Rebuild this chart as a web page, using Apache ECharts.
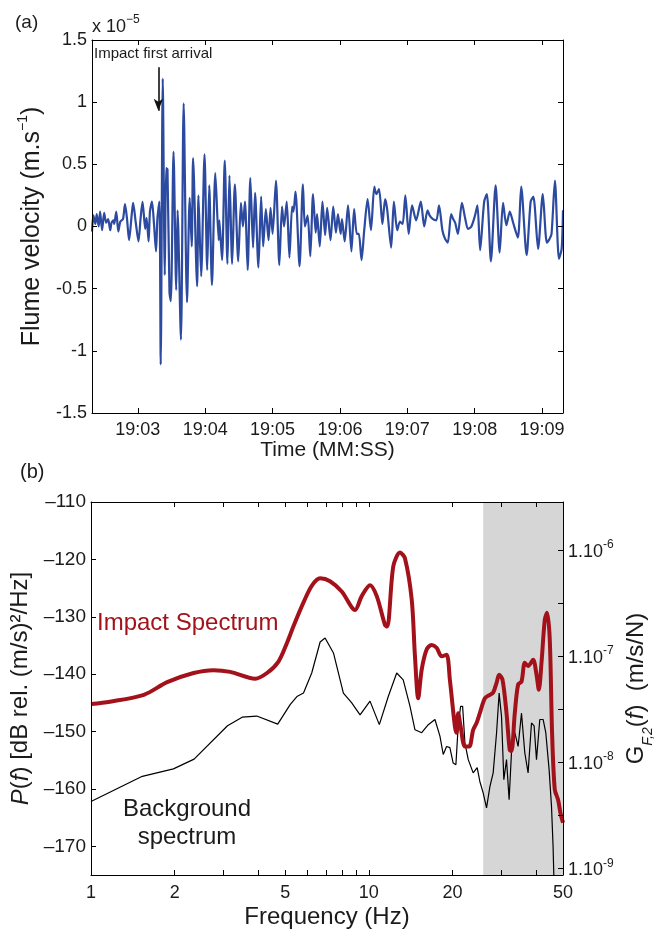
<!DOCTYPE html>
<html>
<head>
<meta charset="utf-8">
<title>Flume velocity and impact spectrum</title>
<script src="https://cdn.jsdelivr.net/npm/echarts@6.0.0/dist/echarts.min.js"></script>
<style>
  html, body { margin: 0; padding: 0; background: #fff; }
  #chart { width: 654px; height: 933px; }
</style>
</head>
<body>
<div id="chart"></div>
<script>
// (a) flume velocity: [seconds after 19:00, velocity in 1e-5 m/s]
const velocityTrace = [
  [2.32, -0.04], [2.34, 0.09], [2.37, 0.02], [2.39, 0.10], [2.42, 0.00], [2.44, 0.12], [2.47, -0.03],
  [2.50, 0.11], [2.53, 0.03], [2.56, 0.06], [2.59, -0.03], [2.61, 0.03], [2.64, 0.05], [2.65, 0.02],
  [2.68, 0.12], [2.71, -0.04], [2.74, 0.04], [2.78, 0.06], [2.81, 0.18], [2.84, 0.06], [2.87, -0.11],
  [2.91, 0.10], [2.93, 0.19], [2.97, 0.03], [3.01, -0.12], [3.04, 0.06], [3.07, 0.20], [3.11, -0.02],
  [3.13, 0.07], [3.16, -0.12], [3.18, 0.12], [3.21, 0.20], [3.24, 0.02], [3.27, -0.20], [3.29, 0.06],
  [3.32, 0.20], [3.34, -1.11], [3.37, 1.19], [3.40, -0.39], [3.42, 0.47], [3.44, 0.46], [3.47, -0.53],
  [3.49, -0.60], [3.53, 0.60], [3.57, -0.51], [3.59, 0.13], [3.64, -0.91], [3.68, 0.99], [3.73, -0.61],
  [3.77, 0.23], [3.80, -0.16], [3.82, 0.55], [3.88, -0.48], [3.90, 0.25], [3.94, -0.40], [3.99, 0.58],
  [4.03, -0.35], [4.06, 0.33], [4.10, -0.47], [4.15, 0.43], [4.20, -0.11], [4.21, 0.05], [4.25, -0.27],
  [4.29, 0.53], [4.33, -0.30], [4.36, 0.41], [4.40, -0.30], [4.44, 0.34], [4.49, -0.28], [4.53, 0.19],
  [4.56, 0.00], [4.59, 0.20], [4.63, -0.35], [4.67, 0.39], [4.71, -0.17], [4.74, 0.27], [4.79, -0.33],
  [4.83, 0.24], [4.86, -0.16], [4.90, 0.14], [4.94, -0.11], [4.97, 0.15], [5.00, -0.06], [5.05, 0.37],
  [5.10, -0.31], [5.14, 0.16], [5.17, 0.00], [5.21, 0.20], [5.25, -0.25], [5.29, 0.16], [5.31, 0.12],
  [5.34, 0.28], [5.40, -0.32], [5.45, 0.34], [5.48, 0.00], [5.52, 0.09], [5.56, -0.24], [5.60, 0.26],
  [5.64, -0.05], [5.66, 0.10], [5.70, -0.16], [5.74, 0.20], [5.78, -0.07], [5.81, 0.15], [5.86, -0.11],
  [5.90, 0.16], [5.94, -0.05], [5.97, 0.10], [6.01, -0.06], [6.03, 0.06], [6.07, -0.12], [6.12, 0.17],
  [6.17, -0.20], [6.21, 0.14], [6.25, -0.06], [6.28, -0.06], [6.32, -0.27], [6.36, -0.03], [6.41, 0.22],
  [6.46, -0.03], [6.51, 0.32], [6.54, 0.26], [6.58, 0.30], [6.63, 0.02], [6.67, 0.22], [6.70, 0.14],
  [6.76, -0.17], [6.80, 0.20], [6.85, -0.03], [6.89, 0.04], [6.93, 0.02], [6.97, 0.25], [7.02, -0.06],
  [7.07, 0.17], [7.13, 0.05], [7.20, 0.20], [7.25, 0.00], [7.30, 0.13], [7.33, 0.09], [7.38, 0.06],
  [7.43, 0.05], [7.47, 0.17], [7.52, -0.03], [7.56, -0.10], [7.60, -0.13], [7.65, 0.10], [7.68, 0.06],
  [7.71, 0.03], [7.75, -0.06], [7.81, 0.19], [7.86, 0.06], [7.90, -0.02], [7.95, 0.00], [8.00, 0.08],
  [8.04, 0.17], [8.08, -0.19], [8.14, 0.20], [8.18, 0.26], [8.24, -0.28], [8.31, 0.33], [8.37, -0.21],
  [8.42, 0.19], [8.47, 0.01], [8.52, 0.12], [8.57, 0.03], [8.64, -0.09], [8.69, 0.32], [8.77, -0.23],
  [8.83, 0.20], [8.87, 0.24], [8.94, -0.18], [9.01, 0.26], [9.07, -0.13], [9.11, -0.10], [9.14, -0.06],
  [9.19, 0.37], [9.25, -0.26], [9.29, -0.18], [9.31, 0.13]
];
const timeTicks = [3, 4, 5, 6, 7, 8, 9];
const timeRange = [2.32, 9.31];
// arrow "Impact first arrival"
const arrivalTime = 3.305;
const arrowFrom = 1.28;
const arrowTo = 0.93;

// (b) spectra: [frequency Hz, dB rel. (m/s)^2/Hz]
const impactSpectrum = [
  [1.00, -145.2], [1.17, -144.8], [1.55, -143.6], [1.88, -141.4], [2.34, -139.8], [2.76, -139.3],
  [3.17, -139.6], [3.90, -140.8], [4.30, -139.8], [4.73, -137.8], [5.07, -134.6], [5.35, -131.7],
  [5.82, -127.5], [6.23, -124.6], [6.68, -123.3], [7.25, -123.8], [7.99, -125.6], [8.92, -128.8],
  [9.43, -126.4], [10.10, -124.5], [10.68, -126.4], [11.43, -131.4], [11.65, -131.7], [12.25, -121.2],
  [12.95, -118.8], [13.49, -119.8], [14.27, -127.0], [14.66, -136.9], [15.06, -144.2], [15.50, -139.2],
  [16.15, -135.7], [16.83, -134.9], [17.54, -135.4], [18.29, -136.9], [19.05, -136.6], [19.58, -141.0],
  [20.41, -149.1], [20.70, -150.2], [20.97, -146.8], [21.40, -149.1], [22.18, -152.6], [22.98, -152.6],
  [23.75, -149.7], [24.43, -148.5], [25.10, -146.8], [26.17, -144.2], [27.28, -143.6], [28.03, -143.2],
  [28.83, -141.5], [29.45, -140.1], [30.29, -141.0], [31.31, -146.8], [32.15, -153.2], [32.62, -153.4],
  [33.53, -146.8], [34.47, -141.8], [35.45, -141.3], [36.43, -138.0], [37.44, -138.6], [39.03, -137.5],
  [40.14, -140.1], [40.92, -142.7], [41.84, -138.0], [43.00, -130.5], [43.82, -129.3], [44.81, -134.0],
  [45.67, -150.2], [46.70, -160.1], [48.00, -161.9], [48.96, -164.2], [50.00, -165.9]
];
const backgroundSpectrum = [
  [1.00, -162.2], [1.53, -157.8], [1.98, -156.5], [2.35, -154.8], [3.10, -149.0], [3.50, -147.5],
  [3.95, -147.3], [4.70, -148.7], [5.21, -145.3], [5.51, -143.9], [5.82, -143.3], [6.23, -139.8],
  [6.68, -134.4], [6.96, -133.7], [7.46, -136.3], [8.10, -143.3], [8.68, -145.0], [9.30, -147.1],
  [10.10, -144.7], [10.91, -148.8], [11.75, -143.9], [12.60, -139.8], [13.30, -141.0], [14.07, -145.6],
  [14.66, -149.7], [15.50, -150.2], [16.37, -148.8], [17.30, -147.9], [18.03, -150.8], [18.53, -154.0],
  [19.05, -152.6], [19.58, -152.8], [20.12, -155.5], [20.58, -155.8], [20.97, -149.1], [21.40, -145.6],
  [21.76, -145.6], [22.18, -152.0], [22.80, -154.9], [23.75, -157.2], [24.55, -156.3], [25.10, -158.7],
  [25.80, -160.7], [26.53, -163.3], [27.28, -159.6], [28.03, -157.2], [28.83, -150.2], [29.45, -143.3],
  [30.04, -147.4], [30.62, -158.4], [31.31, -154.9], [31.99, -161.9], [32.62, -153.7], [33.53, -150.2],
  [34.47, -152.6], [35.45, -146.8], [36.43, -153.7], [37.44, -157.2], [38.51, -148.5], [39.35, -149.0],
  [40.14, -154.9], [41.25, -147.9], [42.40, -147.9], [43.35, -150.2], [44.56, -156.6], [45.45, -163.0],
  [46.05, -170.0], [46.51, -178.0]
];
const freqTicks = [1, 2, 3, 4, 5, 6, 7, 8, 9, 10, 20, 30, 40, 50];
const freqLabels = [1, 2, 5, 10, 20, 50];
const dbTicks = [-170, -160, -150, -140, -130, -120, -110];
const gainTicks = [1e-9, 3.16e-9, 1e-8, 3.16e-8, 1e-7, 3.16e-7, 1e-6];
const gainLabels = [1e-9, 1e-8, 1e-7, 1e-6];
// grey band = frequencies above the flume's usable range
const shadeFrom = 25.8;
const shadeTo = 50;

const FONT = "'Liberation Sans', Arial, Helvetica, sans-serif";
const INK = '#1b1b1b';
const RED = '#a3121a';

const chart = echarts.init(document.getElementById('chart'));

// shared look: black box, ticks inside, no grid lines
function frameAxis(extra) {
  return Object.assign({
    axisLine: { show: true, onZero: false, lineStyle: { color: '#000', width: 1 } },
    axisTick: { show: true, inside: true, length: 5, lineStyle: { color: '#000' } },
    axisLabel: { show: false },
    splitLine: { show: false },
    z: 10
  }, extra);
}

const tickLabel = { fontFamily: FONT, fontSize: 18, color: INK };

const option = {
  animation: false,
  backgroundColor: '#fff',
  textStyle: { fontFamily: FONT },
  // fixed plot boxes, labels may sit outside them
  grid: [
    { left: 92, top: 40, width: 471, height: 373, containLabel: false, outerBoundsMode: 'none' },
    { left: 91, top: 502, width: 472, height: 373, containLabel: false, outerBoundsMode: 'none' }
  ],
  xAxis: [
    frameAxis({
      gridIndex: 0, type: 'value', position: 'bottom',
      min: timeRange[0], max: timeRange[1],
      axisTick: { inside: true, length: 5, customValues: timeTicks, lineStyle: { color: '#000' } },
      axisLabel: Object.assign({
        show: true, margin: 8, customValues: timeTicks,
        formatter: v => '19:' + (v < 10 ? '0' : '') + v
      }, tickLabel),
      name: 'Time (MM:SS)', nameLocation: 'middle', nameGap: 27,
      nameTextStyle: { fontFamily: FONT, fontSize: 21, color: INK }
    }),
    frameAxis({
      gridIndex: 0, type: 'value', position: 'top',
      min: timeRange[0], max: timeRange[1],
      axisTick: { inside: true, length: 5, customValues: timeTicks, lineStyle: { color: '#000' } }
    }),
    frameAxis({
      gridIndex: 1, type: 'log', logBase: 10, position: 'bottom', min: 1, max: 50,
      axisTick: { inside: true, length: 5, customValues: freqTicks, lineStyle: { color: '#000' } },
      axisLabel: Object.assign({ show: true, margin: 9, customValues: freqLabels }, tickLabel),
      name: 'Frequency (Hz)', nameLocation: 'middle', nameGap: 30,
      nameTextStyle: { fontFamily: FONT, fontSize: 24, color: INK }
    }),
    frameAxis({
      gridIndex: 1, type: 'log', logBase: 10, position: 'top', min: 1, max: 50,
      axisTick: { inside: true, length: 5, customValues: freqTicks, lineStyle: { color: '#000' } }
    })
  ],
  yAxis: [
    frameAxis({
      gridIndex: 0, type: 'value', position: 'left', min: -1.5, max: 1.5, interval: 0.5,
      axisLabel: Object.assign({ show: true, margin: 5 }, tickLabel),
      name: '{t|Flume velocity (m.s}{s|\u22121}{t|)}',
      nameLocation: 'middle', nameGap: 35, nameRotate: 90,
      nameTextStyle: {
        color: INK,
        rich: {
          t: { fontFamily: FONT, fontSize: 25, color: INK, lineHeight: 29, verticalAlign: 'bottom' },
          s: { fontFamily: FONT, fontSize: 14, color: INK, lineHeight: 14, verticalAlign: 'top' }
        }
      }
    }),
    frameAxis({
      gridIndex: 0, type: 'value', position: 'right', min: -1.5, max: 1.5, interval: 0.5
    }),
    frameAxis({
      gridIndex: 1, type: 'value', position: 'left', min: -175, max: -110,
      axisTick: { inside: true, length: 5, customValues: dbTicks, lineStyle: { color: '#000' } },
      axisLabel: Object.assign({
        show: true, margin: 5, customValues: dbTicks,
        formatter: v => '\u2013' + Math.abs(v)
      }, tickLabel, { fontSize: 19 }),
      name: '{i|P}{t|(}{i|f}{t|) [dB rel. (m/s)\u00b2/Hz]}',
      nameLocation: 'middle', nameGap: 38, nameRotate: 90,
      nameTextStyle: {
        color: INK,
        rich: {
          t: { fontFamily: FONT, fontSize: 24, color: INK },
          i: { fontFamily: FONT, fontSize: 24, color: INK, fontStyle: 'italic' }
        }
      }
    }),
    frameAxis({
      gridIndex: 1, type: 'log', logBase: 10, position: 'right', min: 8.65e-10, max: 2.82e-6,
      axisTick: { inside: true, length: 5, customValues: gainTicks, lineStyle: { color: '#000' } },
      axisLabel: {
        show: true, margin: 5, customValues: gainLabels,
        formatter: v => '{m|1.10}{e|' + Math.round(Math.log10(v)) + '}',
        rich: {
          m: { fontFamily: FONT, fontSize: 18, color: INK, lineHeight: 22, verticalAlign: 'bottom' },
          e: { fontFamily: FONT, fontSize: 12, color: INK, lineHeight: 12, verticalAlign: 'top' }
        }
      },
      name: '{t|G}{sub|F,2}{t|(}{i|f}{t|)  (m/s/N)}',
      nameLocation: 'middle', nameGap: 57, nameRotate: 90,
      nameTextStyle: {
        color: INK,
        rich: {
          t: { fontFamily: FONT, fontSize: 24, color: INK, lineHeight: 26, verticalAlign: 'top' },
          i: { fontFamily: FONT, fontSize: 24, color: INK, lineHeight: 26, verticalAlign: 'top', fontStyle: 'italic' },
          sub: { fontFamily: FONT, fontSize: 14, color: INK, lineHeight: 31, verticalAlign: 'bottom', fontStyle: 'italic' }
        }
      }
    })
  ],
  series: [
    {
      name: 'Flume velocity',
      type: 'line',
      xAxisIndex: 0, yAxisIndex: 0,
      data: velocityTrace,
      showSymbol: false,
      smooth: 0.25,
      lineStyle: { color: '#2c4a9f', width: 2.2 },
      markLine: {
        silent: true,
        symbol: ['none', 'arrow'],
        symbolSize: [7, 12],
        lineStyle: { color: '#111', width: 1.6, type: 'solid' },
        label: { show: false },
        data: [[{ coord: [arrivalTime, arrowFrom] }, { coord: [arrivalTime, arrowTo] }]]
      }
    },
    {
      name: 'Background spectrum',
      type: 'line',
      xAxisIndex: 2, yAxisIndex: 2,
      data: backgroundSpectrum,
      showSymbol: false,
      lineStyle: { color: '#000', width: 1.2 },
      markArea: {
        silent: true,
        itemStyle: { color: '#d6d6d6' },
        data: [[{ xAxis: shadeFrom }, { xAxis: shadeTo }]]
      }
    },
    {
      name: 'Impact Spectrum',
      type: 'line',
      xAxisIndex: 2, yAxisIndex: 2,
      data: impactSpectrum,
      showSymbol: false,
      smooth: 0.3,
      z: 3,
      lineStyle: { color: RED, width: 4 }
    }
  ],
  // panel letters and in-plot annotations
  graphic: [
    { type: 'text', x: 15, y: 13, style: { text: '(a)', fontFamily: FONT, fontSize: 19, fill: INK } },
    { type: 'text', x: 20, y: 462, style: { text: '(b)', fontFamily: FONT, fontSize: 20, fill: INK } },
    {
      type: 'text', x: 92, y: 14,
      style: {
        text: '{a|x 10}{b|\u22125}',
        rich: {
          a: { fontFamily: FONT, fontSize: 18, fill: INK, lineHeight: 22, verticalAlign: 'bottom' },
          b: { fontFamily: FONT, fontSize: 12, fill: INK, lineHeight: 12, verticalAlign: 'top' }
        }
      }
    },
    { type: 'text', x: 94, y: 46, style: { text: 'Impact first arrival', fontFamily: FONT, fontSize: 15, fill: INK } },
    { type: 'text', x: 97, y: 611, z: 20, style: { text: 'Impact Spectrum', fontFamily: FONT, fontSize: 24, fill: RED } },
    {
      type: 'text', x: 187, y: 795, z: 20,
      style: { text: 'Background\nspectrum', fontFamily: FONT, fontSize: 24, lineHeight: 28, fill: INK, align: 'center' }
    }
  ]
};

chart.setOption(option);
window.addEventListener('resize', () => chart.resize());
</script>
</body>
</html>
